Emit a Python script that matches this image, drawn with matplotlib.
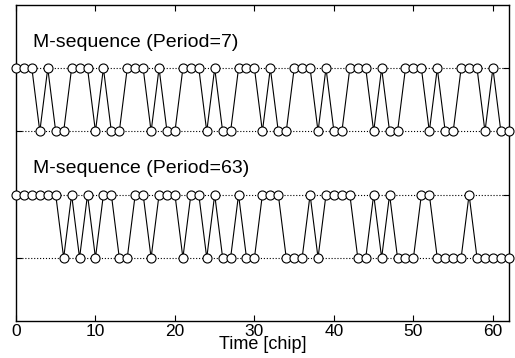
import matplotlib
matplotlib.use('Agg')
import matplotlib.pyplot as plt
import numpy as np

plt.rcParams['font.family'] = ['Liberation Sans', 'DejaVu Sans']

# chip sequences (1 = high, 0 = low)
seq7_period = [1, 1, 1, 0, 1, 0, 0]
seq63 = [1, 1, 1, 1, 1, 1, 0, 1, 0, 1, 0, 1, 1, 0, 0, 1, 1, 0, 1, 1,
         1, 0, 1, 1, 0, 1, 0, 0, 1, 0, 0, 1, 1, 1, 0, 0, 0, 1, 0, 1,
         1, 1, 1, 0, 0, 1, 0, 1, 0, 0, 0, 1, 1, 0, 0, 0, 0, 1, 0, 0,
         0, 0, 0]
seq7 = (seq7_period * 9)[:63]
chips = np.arange(63)

# vertical offsets of the two traces
off7 = 2
off63 = 0
labels = ['M-sequence (Period=7)', 'M-sequence (Period=63)']
xticks = [0, 10, 20, 30, 40, 50, 60]

fig = plt.figure(figsize=(5.15, 3.58), dpi=100)
ax = fig.add_axes([0.031, 0.103, 0.957, 0.883])

style = dict(color='black', linewidth=0.8, marker='o', markersize=6.5,
             markerfacecolor='white', markeredgecolor='black',
             markeredgewidth=0.8, clip_on=False, zorder=3)
ax.plot(chips, np.array(seq7) + off7, **style)
ax.plot(chips, np.array(seq63) + off63, **style)

ax.text(2.1, off7 + 1.41, labels[0], fontsize=14, va='center', ha='left')
ax.text(2.1, off63 + 1.41, labels[1], fontsize=14, va='center', ha='left')

ax.set_xlim(0, 62)
ax.set_ylim(-1, 4)
ax.set_xticks(xticks)
ax.set_yticks([0, 1, 2, 3])
ax.set_yticklabels([])
ax.tick_params(axis='both', direction='in', top=True, right=True,
               length=4, width=0.8, labelsize=12.5, pad=2)
ax.yaxis.grid(True, linestyle=':', color='black', linewidth=0.8)
ax.set_axisbelow(True)
for s in ax.spines.values():
    s.set_linewidth(1.0)
ax.set_xlabel('Time [chip]', fontsize=13, labelpad=-2)

plt.savefig('out.png', dpi=100)
